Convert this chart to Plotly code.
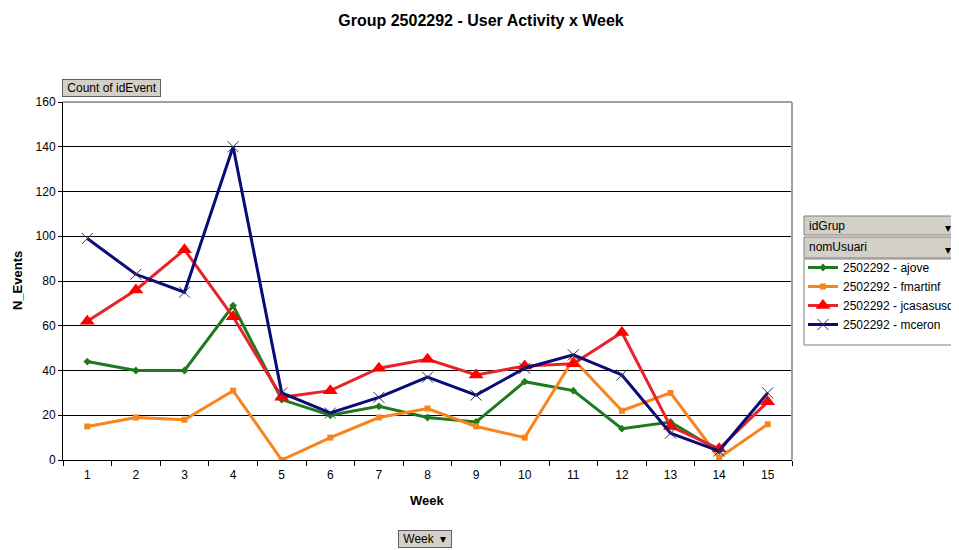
import plotly.graph_objects as go

weeks = [str(i) for i in range(1, 16)]
ajove = [44, 40, 40, 69, 27, 20, 24, 19, 17, 35, 31, 14, 17, 4, None]
fmartinf = [15, 19, 18, 31, 0, 10, 19, 23, 15, 10, 45, 22, 30, 1, 16]
jcasasus = [62, 76, 94, 64, 28, 31, 41, 45, 38, 42, 43, 57, 15, 5, 26]
mceron = [99, 83, 75, 140, 30, 21, 28, 37, 29, 41, 47, 38, 12, 4, 30]
y_ticks = [0, 20, 40, 60, 80, 100, 120, 140, 160]

FONT = "Arial, Liberation Sans, sans-serif"

series = [
    ("2502292 - ajove", ajove, "#1f7a1f", dict(symbol="diamond", size=6, color="#1f7a1f")),
    ("2502292 - fmartinf", fmartinf, "#f7841c", dict(symbol="square", size=6, color="#f7841c")),
    ("2502292 - jcasasusd", jcasasus, "#e8232a", dict(symbol="triangle-up", size=13, color="#ff0000")),
    ("2502292 - mceron", mceron, "#0a0a78", dict(symbol="x-thin", size=11, color="#333366",
                                                line=dict(width=1, color="#333355"))),
]

fig = go.Figure()
for name, vals, col, mk in series:
    fig.add_trace(go.Scatter(x=weeks, y=vals, name=name, mode="lines+markers",
                             line=dict(color=col, width=3), marker=mk,
                             connectgaps=False))

# page has an 8px body margin: figure occupies page x 8..959, y 8..550
fig.update_layout(
    width=951, height=542,
    margin=dict(l=55, r=167, t=94, b=90, autoexpand=False),
    paper_bgcolor="white", plot_bgcolor="white",
    font=dict(family=FONT, size=12, color="black"),
    title=dict(text="<b>Group 2502292 - User Activity x Week</b>", x=(481 - 8) / 951,
               xanchor="center", y=1 - 12 / 542, yanchor="middle",
               font=dict(size=16, family=FONT)),
    xaxis=dict(type="category", tickson="boundaries", ticks="outside", ticklen=5,
               range=[-0.5, 14.5], automargin=False, ticklabelstandoff=4,
               tickcolor="black", showline=True, linecolor="black", linewidth=1,
               mirror=False, showgrid=False, zeroline=False,
               tickfont=dict(size=12)),
    yaxis=dict(range=[0, 160], tickvals=y_ticks, showgrid=True, gridcolor="black",
               gridwidth=1, showline=True, linecolor="black", linewidth=1, automargin=False,
               ticks="outside", ticklen=4, tickcolor="black", zeroline=False,
               tickfont=dict(size=12)),
    legend=dict(x=(803 - 63) / 729, xanchor="left", y=(460 - 253) / 358, yanchor="top",
                bgcolor="rgba(0,0,0,0)", borderwidth=0, font=dict(size=12),
                tracegroupgap=0, itemwidth=30),
    showlegend=True,
)

def px_x(p):
    return (p - 63) / 729
def px_y(p):
    return (460 - p) / 358

# axis titles
fig.add_annotation(xref="paper", yref="paper", x=px_x(427), y=px_y(501), text="<b>Week</b>",
                   showarrow=False, xanchor="center", yanchor="middle", font=dict(size=13))
fig.add_annotation(xref="paper", yref="paper", x=px_x(17), y=px_y(281), text="<b>N_Events</b>",
                   showarrow=False, xanchor="center", yanchor="middle", textangle=-90,
                   font=dict(size=13))

# plot-area top/right border (gray)
fig.add_shape(type="line", xref="paper", yref="paper", x0=0, x1=1, y0=1, y1=1,
              line=dict(color="#a0a0a0", width=2))
fig.add_shape(type="line", xref="paper", yref="paper", x0=1, x1=1, y0=0, y1=1,
              line=dict(color="#a0a0a0", width=2))

# legend frame
fig.add_shape(type="rect", xref="paper", yref="paper", x0=px_x(804), x1=px_x(990),
              y0=px_y(345), y1=px_y(259), line=dict(color="#808080", width=1),
              fillcolor="white", layer="below")
for label, top, bot in [("idGrup", 216, 235), ("nomUsuari", 237, 258)]:
    fig.add_shape(type="rect", xref="paper", yref="paper", x0=px_x(804), x1=px_x(990),
                  y0=px_y(bot), y1=px_y(top), line=dict(color="#808080", width=1),
                  fillcolor="#d4d0c8")
    fig.add_annotation(xref="paper", yref="paper", x=px_x(807), y=px_y((top + bot) / 2),
                       text=label, showarrow=False, xanchor="left", yanchor="middle",
                       font=dict(size=12))
    fig.add_annotation(xref="paper", yref="paper", x=px_x(948), y=px_y((top + bot) / 2 + 2),
                       text="▾", showarrow=False, xanchor="center", yanchor="middle",
                       font=dict(size=12))

# "Count of idEvent" button
fig.add_annotation(xref="paper", yref="paper", x=px_x(62), y=px_y(97), text=" Count of idEvent ",
                   showarrow=False, xanchor="left", yanchor="bottom", bgcolor="#d4d0c8",
                   bordercolor="#606060", borderwidth=1, borderpad=1, font=dict(size=12))
# "Week" button
fig.add_annotation(xref="paper", yref="paper", x=px_x(398), y=px_y(548), text=" Week  ▾ ",
                   showarrow=False, xanchor="left", yanchor="bottom", bgcolor="#d4d0c8",
                   bordercolor="#606060", borderwidth=1, borderpad=1, font=dict(size=12))

fig.write_html("out.html")
